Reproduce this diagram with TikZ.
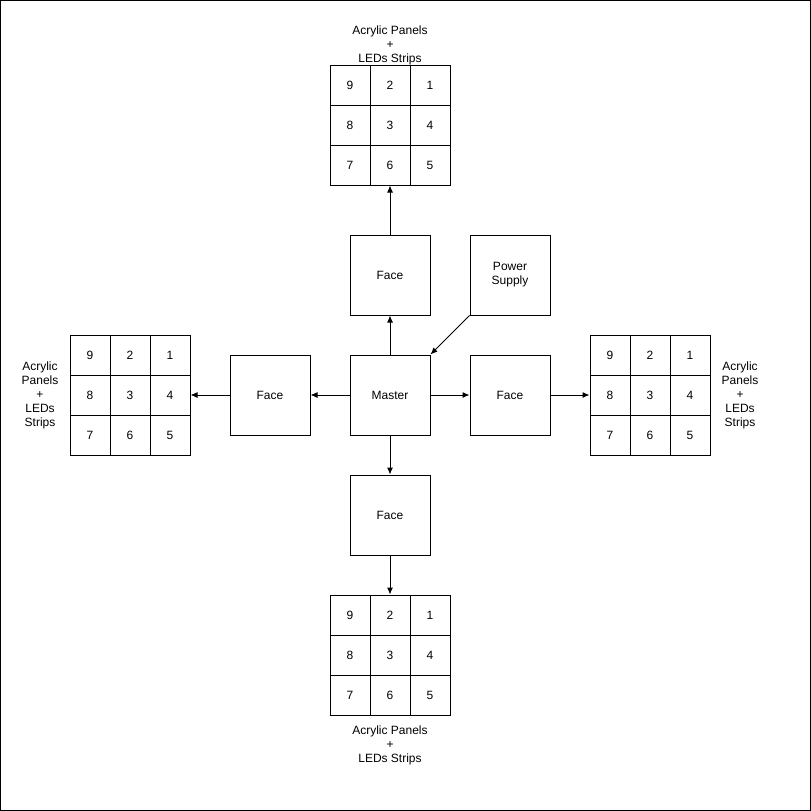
\documentclass[tikz,border=0pt]{standalone}
\usepackage{fontspec}
\setmainfont{Liberation Sans}
\usetikzlibrary{arrows.meta}
\tikzset{
  box/.style={draw, line width=1pt, minimum size=80pt, inner sep=0pt, align=center, font=\fontsize{12}{14}\selectfont},
  cell/.style={draw, line width=1pt, minimum size=40pt, inner sep=0pt, font=\fontsize{12}{14}\selectfont},
  lbl/.style={align=center, inner sep=0pt, font=\fontsize{12}{14}\selectfont},
  conn/.style={line width=1pt, -{Latex[length=7pt,width=6pt]}},
}
\newcommand{\gridpanel}[3]{%
  \foreach \n/\c/\r in {9/0/0,2/1/0,1/2/0,8/0/1,3/1/1,4/2/1,7/0/2,6/1/2,5/2/2}{
    \node[cell] (#1\n) at ({#2+20+40*\c},{#3+20+40*\r}) {\n};
  }%
}
\begin{document}
\begin{tikzpicture}[x=1pt,y=-1pt]
\useasboundingbox (0,0) rectangle (811,811);
\draw[line width=1pt] (0.5,0.5) rectangle (810.5,810.5);
% boxes
\node[box] (master) at (390,395) {Master};
\node[box] (ftop) at (390,275) {Face};
\node[box] (fleft) at (270,395) {Face};
\node[box] (fright) at (510,395) {Face};
\node[box] (fbottom) at (390,515) {Face};
\node[box] (ps) at (510,275) {Power\\Supply};
% grids
\gridpanel{t}{330}{65}
\gridpanel{l}{70}{335}
\gridpanel{r}{590}{335}
\gridpanel{b}{330}{595}
% labels
\node[lbl] (ltop) at (390,45) {Acrylic Panels\\+\\LEDs Strips};
\node[lbl] (lleft) at (40,395) {Acrylic\\Panels\\+\\LEDs\\Strips};
\node[lbl] (lright) at (740,395) {Acrylic\\Panels\\+\\LEDs\\Strips};
\node[lbl] (lbottom) at (390,745) {Acrylic Panels\\+\\LEDs Strips};
% connectors
\draw[conn] (master.north) -- (ftop.south);
\draw[conn] (ftop.north) -- (t6.south);
\draw[conn] (master.west) -- (fleft.east);
\draw[conn] (fleft.west) -- (l4.east);
\draw[conn] (master.east) -- (fright.west);
\draw[conn] (fright.east) -- (r8.west);
\draw[conn] (master.south) -- (fbottom.north);
\draw[conn] (fbottom.south) -- (b2.north);
\draw[conn] (ps.south west) -- (master.north east);
\end{tikzpicture}
\end{document}
